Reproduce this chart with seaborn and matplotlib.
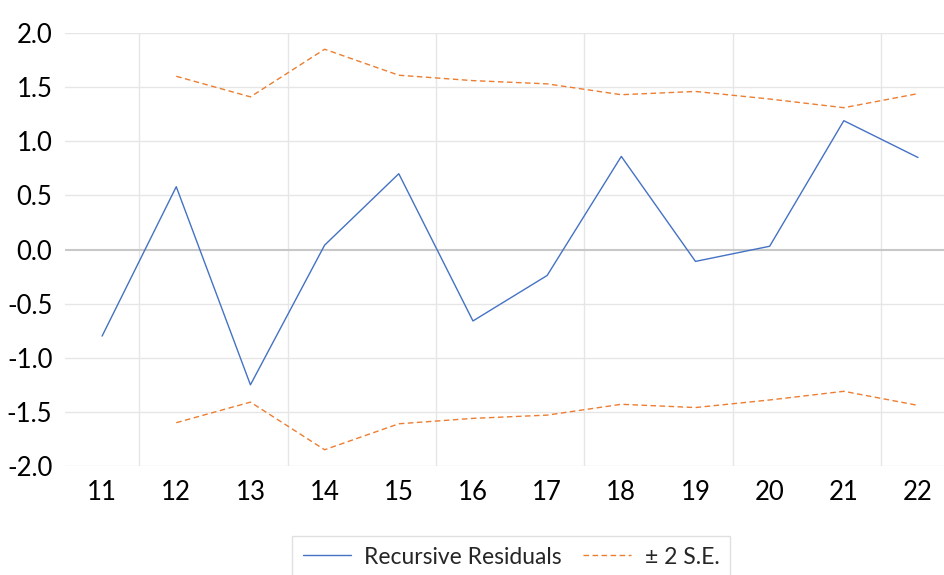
import matplotlib
matplotlib.use("Agg")
import matplotlib.pyplot as plt
import seaborn as sns
import numpy as np
import pandas as pd

periods = [11, 12, 13, 14, 15, 16, 17, 18, 19, 20, 21, 22]
residuals = [-0.80, 0.58, -1.25, 0.04, 0.70, -0.66, -0.24, 0.86, -0.11, 0.03, 1.19, 0.85]
band_periods = [12, 13, 14, 15, 16, 17, 18, 19, 20, 21, 22]
upper_band = [1.60, 1.41, 1.85, 1.61, 1.56, 1.53, 1.43, 1.46, 1.39, 1.31, 1.44]
lower_band = [-1.60, -1.41, -1.85, -1.61, -1.56, -1.53, -1.43, -1.46, -1.39, -1.31, -1.44]
y_ticks = [-2.0, -1.5, -1.0, -0.5, 0.0, 0.5, 1.0, 1.5, 2.0]

sns.set_style("white")
plt.rcParams['font.family'] = ['Lato', 'DejaVu Sans']

fig = plt.figure(figsize=(9.45, 5.75), dpi=100)
ax = fig.add_axes([65/945, 1-466/575, 880/945, (466-33)/575])

blue = "#4472C4"
orange = "#ED7D31"

res_df = pd.DataFrame({"period": periods, "value": residuals})
up_df = pd.DataFrame({"period": band_periods, "value": upper_band})
lo_df = pd.DataFrame({"period": band_periods, "value": lower_band})

sns.lineplot(data=res_df, x="period", y="value", ax=ax, color=blue, linewidth=1.0,
             label="Recursive Residuals", zorder=3)
sns.lineplot(data=up_df, x="period", y="value", ax=ax, color=orange, linewidth=1.0,
             linestyle=(0, (4, 2.5)), label="± 2 S.E.", zorder=3)
sns.lineplot(data=lo_df, x="period", y="value", ax=ax, color=orange, linewidth=1.0,
             linestyle=(0, (4, 2.5)), label="_nolegend_", zorder=3)

ax.set_xlim(10.5, 22.364)
ax.set_ylim(-2.0, 2.0)
ax.set_xticks(periods)
ax.set_xticklabels([str(p) for p in periods])
ax.set_xticks([11.5, 13.5, 15.5, 17.5, 19.5, 21.5], minor=True)
ax.set_yticks(y_ticks)
ax.set_yticklabels([f"{v:.1f}" for v in y_ticks])
ax.set_xlabel("")
ax.set_ylabel("")

ax.grid(False)
for v in y_ticks:
    if v == 0.0:
        ax.axhline(v, color="#c8c8c8", linewidth=1.5, zorder=1)
    else:
        ax.axhline(v, color="#e6e6e6", linewidth=1.0, zorder=1)
ax.grid(True, which="minor", axis="x", color="#e6e6e6", linewidth=1.0, zorder=1)

for s in ax.spines.values():
    s.set_visible(False)
ax.tick_params(axis="both", which="both", length=0, labelsize=18.5, colors="black")
ax.tick_params(axis="x", pad=10)
ax.tick_params(axis="y", pad=9)

ax.get_legend().remove()
handles, labels = ax.get_legend_handles_labels()
leg = fig.legend(handles, labels, loc="center", bbox_to_anchor=(511/945, 1-557/575),
                 ncol=2, frameon=True, fontsize=16.5, handlelength=2.1, columnspacing=0.9,
                 handletextpad=0.6, borderpad=0.45, borderaxespad=0, fancybox=False)
leg.get_frame().set_edgecolor("#d9d9d9")
leg.get_frame().set_linewidth(1.0)

fig.savefig("out.png", dpi=100)
